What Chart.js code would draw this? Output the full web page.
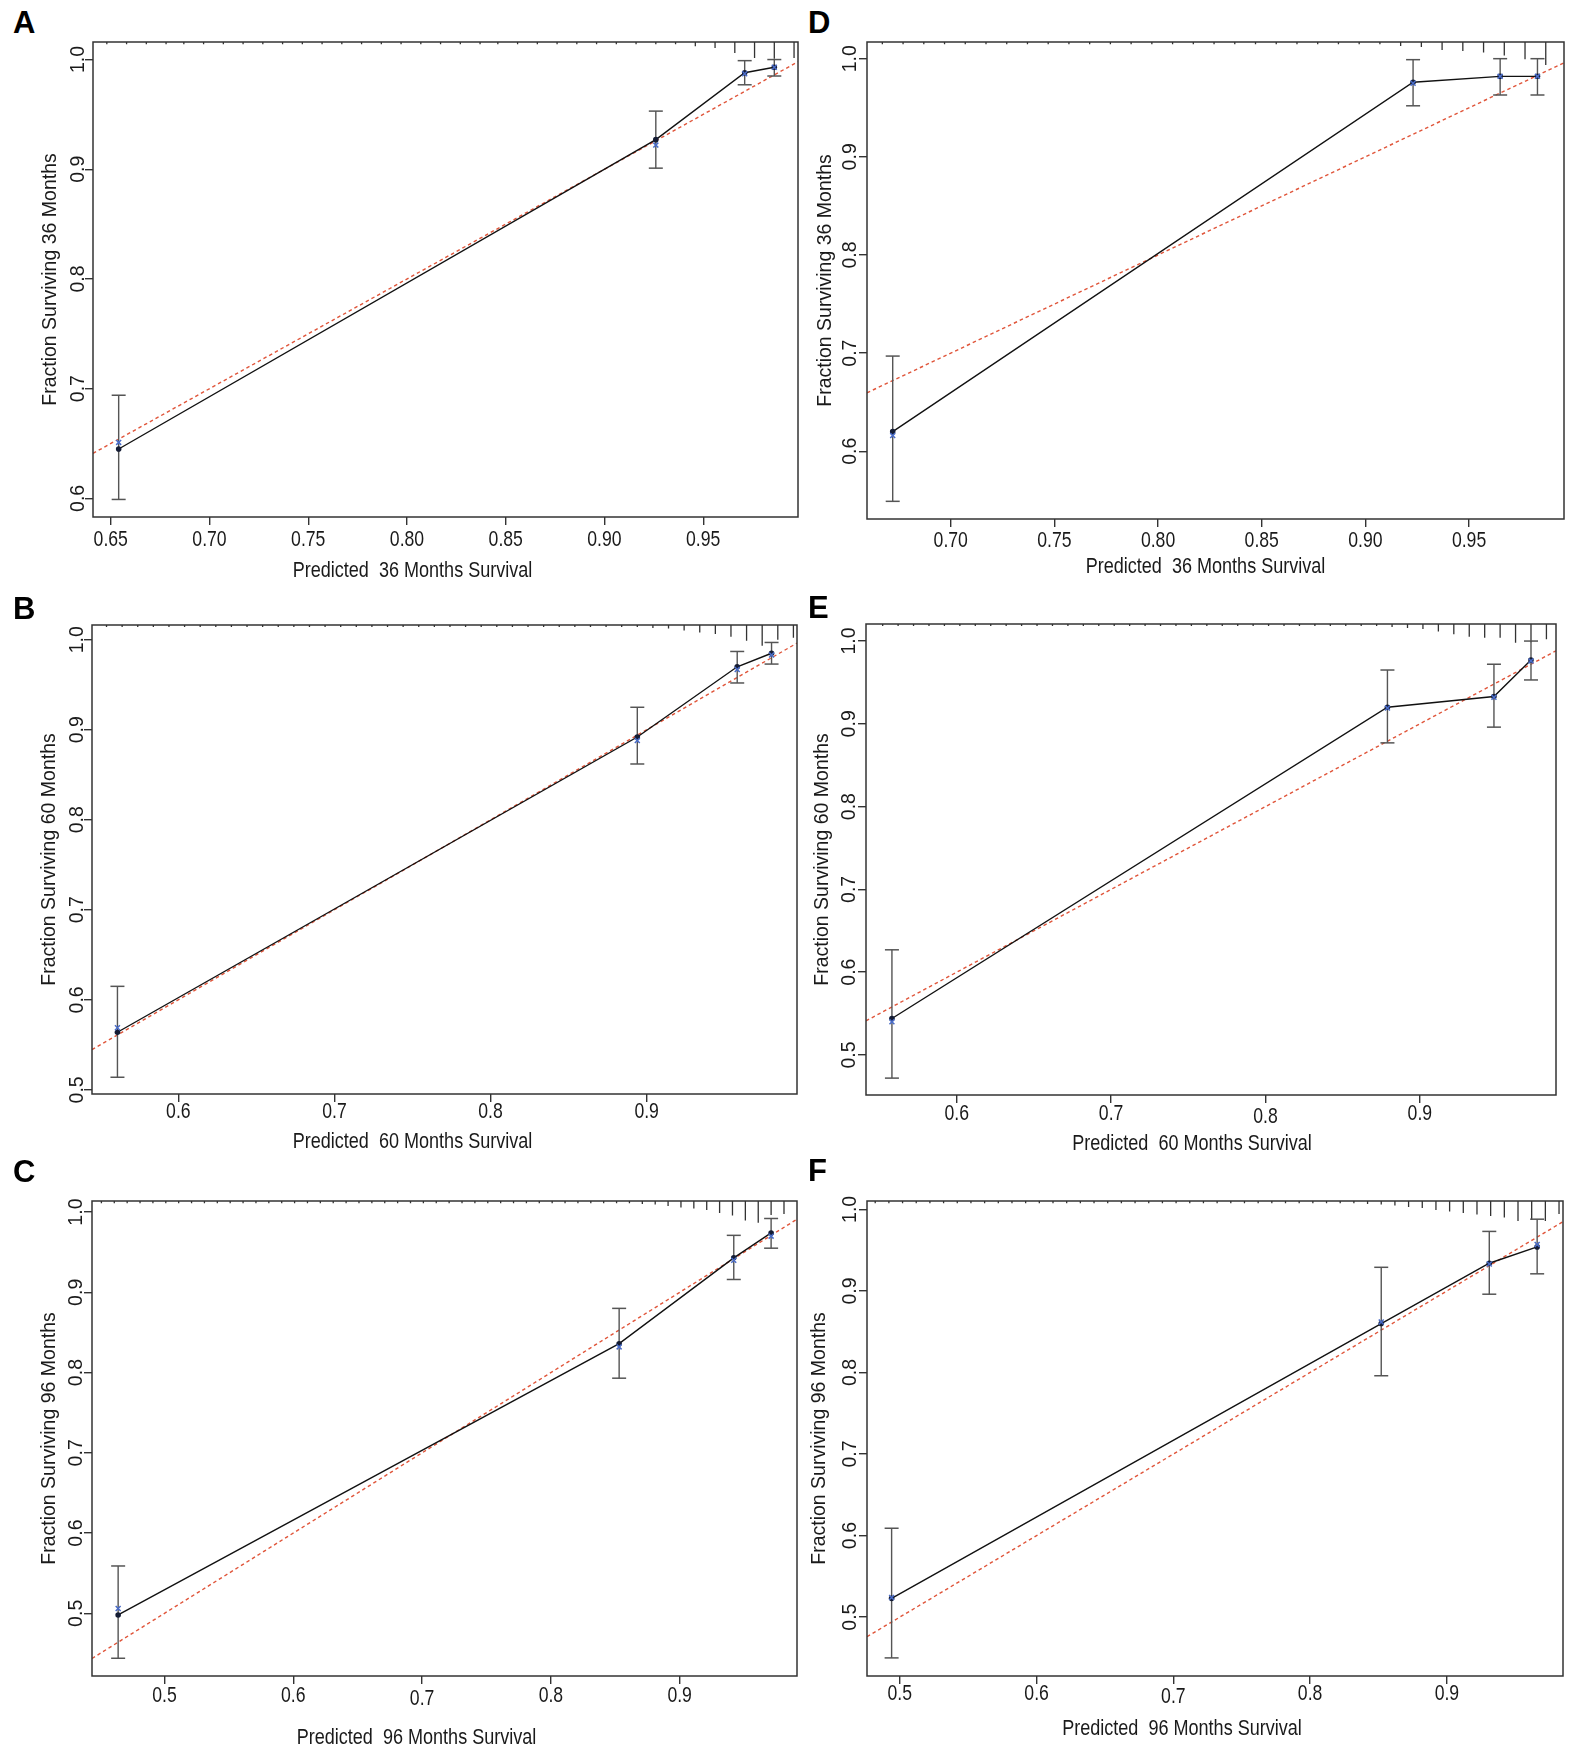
<!DOCTYPE html>
<html>
<head>
<meta charset="utf-8">
<script src="https://cdn.jsdelivr.net/npm/chart.js@4.4.1/dist/chart.umd.min.js"></script>
<style>
  html, body { margin: 0; padding: 0; background: #fff; }
  #page { position: relative; width: 1571px; height: 1753px; overflow: hidden; background: #fff; }
  #page canvas { position: absolute; }
  .tag { position: absolute; font: bold 31px 'Liberation Sans', Arial, sans-serif; line-height: 1; color: #000; }
</style>
</head>
<body>
<div id="page"></div>
<script>
// tick labels
const xTicks36 = ['0.65', '0.70', '0.75', '0.80', '0.85', '0.90', '0.95'];
const xTicks36v = ['0.70', '0.75', '0.80', '0.85', '0.90', '0.95'];
const xTicksTenths = ['0.5', '0.6', '0.7', '0.8', '0.9'];
const xTicks60 = ['0.6', '0.7', '0.8', '0.9'];
const yTicksHigh = ['0.6', '0.7', '0.8', '0.9', '1.0'];
const yTicksLow = ['0.5', '0.6', '0.7', '0.8', '0.9', '1.0'];

// A: 36 months (training)
const predA = [0.654, 0.926, 0.971, 0.986];
const obsA = [0.645, 0.927, 0.988, 0.993];
const corrA = [0.651, 0.922, 0.987, 0.993];
const lowA = [0.599, 0.901, 0.977, 0.985];
const highA = [0.694, 0.953, 0.999, 1.000];
const rugXA = [0.648, 0.658, 0.668, 0.678, 0.687, 0.697, 0.707, 0.717, 0.727, 0.737, 0.747, 0.757,
  0.767, 0.777, 0.787, 0.797, 0.807, 0.817, 0.827, 0.837, 0.846, 0.856, 0.866, 0.876, 0.886, 0.896,
  0.906, 0.916, 0.926, 0.936, 0.946, 0.956, 0.966, 0.976, 0.986, 0.996];
const rugHA = [4.5, 4.5, 4.5, 4.5, 4.5, 4.5, 4.5, 4.5, 4.5, 4.5, 4.5, 4.5, 4.5, 4.5, 4.5, 4.5, 4.5, 4.5,
  4.5, 4.5, 4.5, 4.5, 4.5, 4.5, 4.5, 4.5, 4.5, 4.5, 4.5, 4.5, 9, 12.6, 23, 33.6, 35, 33.6];

// B: 60 months (training)
const predB = [0.561, 0.894, 0.958, 0.980];
const obsB = [0.564, 0.892, 0.970, 0.985];
const corrB = [0.569, 0.888, 0.967, 0.983];
const lowB = [0.514, 0.862, 0.952, 0.973];
const highB = [0.615, 0.925, 0.987, 0.997];
const rugXB = [0.554, 0.564, 0.574, 0.584, 0.594, 0.604, 0.614, 0.624, 0.634, 0.644, 0.654, 0.664,
  0.674, 0.684, 0.694, 0.704, 0.714, 0.724, 0.734, 0.744, 0.754, 0.764, 0.774, 0.784, 0.794, 0.804,
  0.814, 0.824, 0.834, 0.844, 0.854, 0.864, 0.874, 0.884, 0.894, 0.904, 0.914, 0.924, 0.934, 0.944,
  0.954, 0.964, 0.974, 0.984, 0.994];
const rugHB = [4.5, 4.5, 4.5, 4.5, 4.5, 4.5, 4.5, 4.5, 4.5, 4.5, 4.5, 4.5, 4.5, 4.5, 4.5, 4.5, 4.5, 4.5,
  4.5, 4.5, 4.5, 4.5, 4.5, 4.5, 4.5, 4.5, 4.5, 4.5, 4.5, 4.5, 4.5, 4.5, 4.5, 4.5, 4.5,
  6.3, 7.4, 11.6, 15.8, 19, 25, 33.6, 44, 31.5, 27.3];

// C: 96 months (training)
const predC = [0.464, 0.853, 0.942, 0.971];
const obsC = [0.498, 0.836, 0.943, 0.974];
const corrC = [0.506, 0.832, 0.940, 0.970];
const lowC = [0.444, 0.793, 0.916, 0.955];
const highC = [0.559, 0.880, 0.971, 0.992];
const rugXC = [0.451, 0.461, 0.471, 0.481, 0.491, 0.501, 0.511, 0.521, 0.531, 0.541, 0.551, 0.561,
  0.571, 0.581, 0.591, 0.601, 0.611, 0.621, 0.631, 0.641, 0.651, 0.661, 0.671, 0.681, 0.691, 0.701,
  0.711, 0.721, 0.731, 0.741, 0.751, 0.761, 0.771, 0.781, 0.791, 0.801, 0.811, 0.821, 0.831, 0.841,
  0.851, 0.861, 0.871, 0.881, 0.891, 0.901, 0.911, 0.921, 0.931, 0.941, 0.951, 0.961, 0.971, 0.981];
const rugHC = [4.5, 4.5, 4.5, 4.5, 4.5, 4.5, 4.5, 4.5, 4.5, 4.5, 4.5, 4.5, 4.5, 4.5, 4.5, 4.5, 4.5, 4.5,
  4.5, 4.5, 4.5, 4.5, 4.5, 4.5, 4.5, 4.5, 4.5, 4.5, 4.5, 4.5, 4.5, 4.5, 4.5, 4.5, 4.5, 4.5, 4.5, 4.5,
  4.5, 4.5, 4.5, 4.5, 6.3, 7.4, 10.5, 13.7, 15.8, 19, 25, 30.5, 41, 46, 29.4, 27.3];

// D: 36 months (validation)
const predD = [0.672, 0.923, 0.965, 0.983];
const obsD = [0.620, 0.976, 0.982, 0.982];
const corrD = [0.616, 0.975, 0.982, 0.982];
const lowD = [0.549, 0.952, 0.963, 0.963];
const highD = [0.697, 0.999, 1.000, 1.000];
const rugXD = [0.667, 0.677, 0.687, 0.697, 0.707, 0.717, 0.727, 0.737, 0.747, 0.757, 0.767, 0.777,
  0.787, 0.797, 0.807, 0.817, 0.827, 0.837, 0.847, 0.857, 0.867, 0.877, 0.887, 0.897, 0.907, 0.917,
  0.927, 0.937, 0.947, 0.957, 0.967, 0.977, 0.987];
const rugHD = [4.5, 4.5, 4.5, 4.5, 4.5, 4.5, 4.5, 4.5, 4.5, 4.5, 4.5, 4.5, 4.5, 4.5, 4.5, 4.5, 4.5, 4.5,
  4.5, 4.5, 4.5, 4.5, 4.5, 4.5, 4.5, 8.4, 10.5, 16.8, 19, 22, 28.4, 36.3, 48.3];

// E: 60 months (validation)
const predE = [0.558, 0.879, 0.948, 0.972];
const obsE = [0.544, 0.920, 0.933, 0.977];
const corrE = [0.540, 0.919, 0.932, 0.976];
const lowE = [0.472, 0.877, 0.896, 0.953];
const highE = [0.627, 0.965, 0.972, 1.000];
const rugXE = [0.552, 0.562, 0.572, 0.582, 0.592, 0.602, 0.612, 0.622, 0.632, 0.642, 0.652, 0.662,
  0.672, 0.682, 0.692, 0.702, 0.712, 0.722, 0.732, 0.742, 0.752, 0.762, 0.772, 0.782, 0.792, 0.802,
  0.812, 0.822, 0.832, 0.842, 0.852, 0.862, 0.872, 0.882, 0.892, 0.902, 0.912, 0.922, 0.932, 0.942,
  0.952, 0.962, 0.972, 0.982];
const rugHE = [4.5, 4.5, 4.5, 4.5, 4.5, 4.5, 4.5, 4.5, 4.5, 4.5, 4.5, 4.5, 4.5, 4.5, 4.5, 4.5, 4.5, 4.5,
  4.5, 4.5, 4.5, 4.5, 4.5, 4.5, 4.5, 4.5, 4.5, 4.5, 4.5, 4.5, 4.5, 4.5, 4.5,
  6.3, 8.4, 10.5, 15.8, 22, 27.3, 29.4, 29.4, 40, 39, 32.6];

// F: 96 months (validation)
const predF = [0.494, 0.852, 0.931, 0.966];
const obsF = [0.523, 0.860, 0.934, 0.954];
const corrF = [0.524, 0.862, 0.933, 0.957];
const lowF = [0.450, 0.796, 0.896, 0.921];
const highF = [0.609, 0.929, 0.973, 0.988];
const rugXF = [0.482, 0.492, 0.502, 0.512, 0.522, 0.532, 0.542, 0.552, 0.562, 0.572, 0.582, 0.592,
  0.602, 0.612, 0.622, 0.632, 0.642, 0.652, 0.662, 0.672, 0.682, 0.692, 0.702, 0.712, 0.722, 0.732,
  0.742, 0.752, 0.762, 0.772, 0.782, 0.792, 0.802, 0.812, 0.822, 0.832, 0.842, 0.852, 0.862, 0.872,
  0.882, 0.892, 0.902, 0.912, 0.922, 0.932, 0.942, 0.952, 0.962, 0.972, 0.982];
const rugHF = [4.5, 4.5, 4.5, 4.5, 4.5, 4.5, 4.5, 4.5, 4.5, 4.5, 4.5, 4.5, 4.5, 4.5, 4.5, 4.5, 4.5, 4.5,
  4.5, 4.5, 4.5, 4.5, 4.5, 4.5, 4.5, 4.5, 4.5, 4.5, 4.5, 4.5, 4.5, 4.5, 4.5, 4.5, 4.5, 4.5,
  6.3, 7.4, 9.5, 12.6, 14.7, 19, 22, 25, 28.4, 31.5, 34.7, 42, 40, 42, 27.3];

const INK = '#1a1a1a';
const AXIS = '#333333';
const BAR = '#555555';
const DIAG = '#e0553a';
const BLUE = '#4a6cc8';
const SANS = "'Liberation Sans', Arial, sans-serif";
const NARROW_SCALE = 0.82;   // no narrow face installed: squeeze Liberation Sans like Arial Narrow
const PAD_L = 90, PAD_T = 10, PAD_R = 10, PAD_B = 80;

const panels = [
  { tag: 'A', tagX: 13, tagY: 6.75, box: { x: 93, y: 42, w: 705, h: 475 },
    xMin: 0.641, xMax: 0.998, yMin: 0.583, yMax: 1.016, xTicks: xTicks36, yTicks: yTicksHigh, lowered: [],
    xTitle: 'Predicted  36 Months Survival', yTitle: 'Fraction Surviving 36 Months',
    xTickDy: 23, xTitleDy: 54, xTitleDx: -33, yTickDx: 14.5, yTitleDx: 42,
    pred: predA, obs: obsA, corr: corrA, low: lowA, high: highA, rugX: rugXA, rugH: rugHA },
  { tag: 'B', tagX: 13, tagY: 592.75, box: { x: 92, y: 625, w: 705, h: 469 },
    xMin: 0.5447, xMax: 0.9963, yMin: 0.4954, yMax: 1.0164, xTicks: xTicks60, yTicks: yTicksLow, lowered: [],
    xTitle: 'Predicted  60 Months Survival', yTitle: 'Fraction Surviving 60 Months',
    xTickDy: 18.5, xTitleDy: 48, xTitleDx: -32, yTickDx: 14.5, yTitleDx: 42.5,
    pred: predB, obs: obsB, corr: corrB, low: lowB, high: highB, rugX: rugXB, rugH: rugHB },
  { tag: 'C', tagX: 13, tagY: 1156, box: { x: 92, y: 1201, w: 705, h: 475 },
    xMin: 0.4437, xMax: 0.9911, yMin: 0.4219, yMax: 1.0138, xTicks: xTicksTenths, yTicks: yTicksLow, lowered: ['0.7'],
    xTitle: 'Predicted  96 Months Survival', yTitle: 'Fraction Surviving 96 Months',
    xTickDy: 20, xTitleDy: 62, xTitleDx: -28, yTickDx: 15, yTitleDx: 42.5,
    pred: predC, obs: obsC, corr: corrC, low: lowC, high: highC, rugX: rugXC, rugH: rugHC },
  { tag: 'D', tagX: 808, tagY: 6.75, box: { x: 867, y: 42, w: 697, h: 477 },
    xMin: 0.6596, xMax: 0.9958, yMin: 0.531, yMax: 1.017, xTicks: xTicks36v, yTicks: yTicksHigh, lowered: [],
    xTitle: 'Predicted  36 Months Survival', yTitle: 'Fraction Surviving 36 Months',
    xTickDy: 22, xTitleDy: 47.5, xTitleDx: -10, yTickDx: 16, yTitleDx: 41.5,
    pred: predD, obs: obsD, corr: corrD, low: lowD, high: highD, rugX: rugXD, rugH: rugHD },
  { tag: 'E', tagX: 808, tagY: 591.75, box: { x: 866, y: 624, w: 690, h: 471 },
    xMin: 0.5412, xMax: 0.9882, yMin: 0.4516, yMax: 1.0206, xTicks: xTicks60, yTicks: yTicksLow, lowered: ['0.8'],
    xTitle: 'Predicted  60 Months Survival', yTitle: 'Fraction Surviving 60 Months',
    xTickDy: 19, xTitleDy: 48.5, xTitleDx: -19, yTickDx: 16, yTitleDx: 43,
    pred: predE, obs: obsE, corr: corrE, low: lowE, high: highE, rugX: rugXE, rugH: rugHE },
  { tag: 'F', tagX: 808, tagY: 1154.75, box: { x: 867, y: 1201, w: 696, h: 475 },
    xMin: 0.476, xMax: 0.9849, yMin: 0.4278, yMax: 1.0103, xTicks: xTicksTenths, yTicks: yTicksLow, lowered: ['0.7'],
    xTitle: 'Predicted  96 Months Survival', yTitle: 'Fraction Surviving 96 Months',
    xTickDy: 18, xTitleDy: 52.5, xTitleDx: -33, yTickDx: 16.5, yTitleDx: 47,
    pred: predF, obs: obsF, corr: corrF, low: lowF, high: highF, rugX: rugXF, rugH: rugHF }
];

// R-style frame: box round the plot region, rotated y labels, narrow x labels and title
const rFrame = {
  id: 'rFrame',
  afterDraw(chart, args, opts) {
    const { ctx, chartArea } = chart;
    const xScale = chart.scales.x;
    const yScale = chart.scales.y;
    ctx.save();
    ctx.strokeStyle = AXIS;
    ctx.lineWidth = 1.5;
    ctx.strokeRect(chartArea.left, chartArea.top, chartArea.right - chartArea.left, chartArea.bottom - chartArea.top);

    ctx.fillStyle = INK;
    ctx.textAlign = 'center';
    ctx.textBaseline = 'middle';

    ctx.font = '19.5px ' + SANS;
    yScale.ticks.forEach((tick, i) => {
      const py = yScale.getPixelForValue(tick.value);
      ctx.save();
      ctx.translate(chartArea.left - opts.yTickDx, py);
      ctx.rotate(-Math.PI / 2);
      ctx.fillText(opts.yLabels[i], 0, 0);
      ctx.restore();
    });

    ctx.font = '21.5px ' + SANS;
    xScale.ticks.forEach((tick, i) => {
      const label = opts.xLabels[i];
      const px = xScale.getPixelForValue(tick.value);
      const dy = opts.lowered.includes(label) ? 3.5 : 0;
      ctx.save();
      ctx.translate(px, chartArea.bottom + opts.xTickDy + dy);
      ctx.scale(NARROW_SCALE, 1);
      ctx.fillText(label, 0, 0);
      ctx.restore();
    });

    ctx.font = '22px ' + SANS;
    ctx.save();
    ctx.translate((chartArea.left + chartArea.right) / 2 + opts.xTitleDx, chartArea.bottom + opts.xTitleDy);
    ctx.scale(NARROW_SCALE, 1);
    ctx.fillText(opts.xTitle, 0, 0);
    ctx.restore();

    ctx.restore();
  }
};

function pairs(xs, ys) {
  return xs.map((x, i) => ({ x: x, y: ys[i] }));
}

function errorBars(xs, lo, hi) {
  const pts = [];
  xs.forEach((x, i) => {
    pts.push({ x: x, y: lo[i] });
    pts.push({ x: x, y: hi[i] });
    pts.push({ x: x, y: null });
  });
  return pts;
}

function rugSpikes(xs, hs, yMin, yMax) {
  const pts = [];
  xs.forEach((x, i) => {
    pts.push({ x: x, y: yMax });
    pts.push({ x: x, y: yMax - hs[i] / 1000 * (yMax - yMin) });
    pts.push({ x: x, y: null });
  });
  return pts;
}

function drawPanel(p) {
  const page = document.getElementById('page');
  const tag = document.createElement('div');
  tag.className = 'tag';
  tag.textContent = p.tag;
  tag.style.left = p.tagX + 'px';
  tag.style.top = p.tagY + 'px';
  page.appendChild(tag);

  const canvas = document.createElement('canvas');
  const cw = p.box.w + PAD_L + PAD_R;
  const ch = p.box.h + PAD_T + PAD_B;
  canvas.width = cw;
  canvas.height = ch;
  canvas.style.width = cw + 'px';
  canvas.style.height = ch + 'px';
  canvas.style.left = (p.box.x - PAD_L) + 'px';
  canvas.style.top = (p.box.y - PAD_T) + 'px';
  page.appendChild(canvas);

  new Chart(canvas, {
    type: 'scatter',
    data: {
      datasets: [
        {
          label: 'bias-corrected',
          data: pairs(p.pred, p.corr),
          pointStyle: 'crossRot',
          pointRadius: 3.5,
          borderColor: BLUE,
          pointBorderWidth: 1.5,
          showLine: false,
          order: 0
        },
        {
          label: 'apparent',
          data: pairs(p.pred, p.obs),
          showLine: true,
          borderColor: '#111111',
          borderWidth: 1.4,
          pointRadius: 2.8,
          pointBackgroundColor: '#141c34',
          pointBorderWidth: 0,
          order: 1
        },
        {
          label: 'ci',
          data: errorBars(p.pred, p.low, p.high),
          showLine: true,
          spanGaps: false,
          borderColor: BAR,
          borderWidth: 1.4,
          pointRadius: 0,
          order: 2
        },
        {
          label: 'ci caps',
          data: pairs(p.pred, p.low).concat(pairs(p.pred, p.high)),
          showLine: false,
          pointStyle: 'line',
          pointRadius: 7,
          borderColor: BAR,
          pointBorderWidth: 1.5,
          order: 2
        },
        {
          label: 'ideal',
          data: [{ x: p.xMin, y: p.xMin }, { x: p.xMax, y: p.xMax }],
          showLine: true,
          borderColor: DIAG,
          borderWidth: 1.4,
          borderDash: [3.5, 3],
          pointRadius: 0,
          order: 3
        },
        {
          label: 'rug',
          data: rugSpikes(p.rugX, p.rugH, p.yMin, p.yMax),
          showLine: true,
          spanGaps: false,
          borderColor: AXIS,
          borderWidth: 1.3,
          pointRadius: 0,
          order: 4
        }
      ]
    },
    options: {
      responsive: false,
      animation: false,
      events: [],
      layout: { padding: { left: 0, top: PAD_T, right: PAD_R, bottom: 0 } },
      plugins: {
        legend: { display: false },
        tooltip: { enabled: false },
        rFrame: {
          yLabels: p.yTicks, yTickDx: p.yTickDx,
          xLabels: p.xTicks, xTickDy: p.xTickDy, lowered: p.lowered,
          xTitle: p.xTitle, xTitleDx: p.xTitleDx, xTitleDy: p.xTitleDy
        }
      },
      scales: {
        x: {
          type: 'linear',
          position: 'bottom',
          min: p.xMin,
          max: p.xMax,
          afterBuildTicks: s => { s.ticks = p.xTicks.map(t => ({ value: parseFloat(t) })); },
          afterFit: s => { s.height = PAD_B; },
          border: { display: false },
          grid: { display: true, drawOnChartArea: false, drawTicks: true, tickLength: 8, color: AXIS, lineWidth: 1.4 },
          ticks: { display: false }
        },
        y: {
          type: 'linear',
          position: 'left',
          min: p.yMin,
          max: p.yMax,
          afterBuildTicks: s => { s.ticks = p.yTicks.map(t => ({ value: parseFloat(t) })); },
          afterFit: s => { s.width = PAD_L; },
          border: { display: false },
          grid: { display: true, drawOnChartArea: false, drawTicks: true, tickLength: 8, color: AXIS, lineWidth: 1.4 },
          ticks: { display: false },
          title: {
            display: true,
            text: p.yTitle,
            color: INK,
            font: { family: SANS, size: 19.5, lineHeight: 1.2 },
            padding: { top: PAD_L - p.yTitleDx - 11.7, bottom: 0 }
          }
        }
      }
    },
    plugins: [rFrame]
  });
}

panels.forEach(drawPanel);
</script>
</body>
</html>
